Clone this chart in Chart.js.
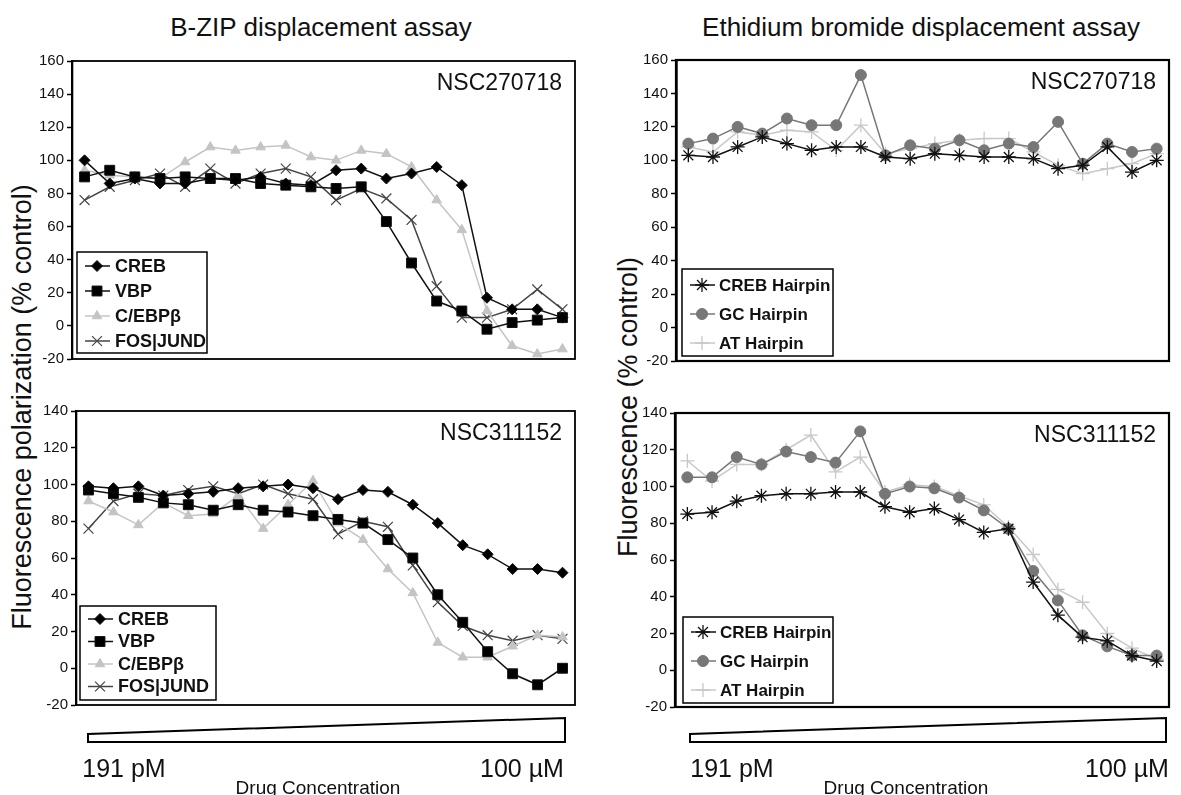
<!DOCTYPE html>
<html>
<head>
<meta charset="utf-8">
<script src="https://cdn.jsdelivr.net/npm/chart.js@4.4.1/dist/chart.umd.min.js"></script>
<style>
  body { margin: 0; width: 1181px; height: 795px; background: #fff; overflow: hidden; position: relative;
         font-family: "Liberation Sans", Arial, sans-serif; color: #111; }
  canvas { position: absolute; }
  .t { position: absolute; white-space: nowrap; line-height: 1; transform: translate(-50%, -50%); }
  .rot { transform: translate(-50%, -50%) rotate(-90deg); }
  svg { position: absolute; left: 0; top: 0; }
</style>
</head>
<body>
<div class="t" style="left:321px; top:27px; font-size:26px;">B-ZIP displacement assay</div>
<div class="t" style="left:921px; top:27px; font-size:26px;">Ethidium bromide displacement assay</div>
<div class="t rot" style="left:22px; top:407px; font-size:27px;">Fluorescence polarization (% control)</div>
<div class="t rot" style="left:628px; top:407px; font-size:27px;">Fluorescence (% control)</div>

<canvas id="tl"></canvas>
<canvas id="bl"></canvas>
<canvas id="tr"></canvas>
<canvas id="br"></canvas>

<svg width="1181" height="795">
  <polygon points="88,742 565,742 565,718 88,734" fill="#fff" stroke="#000" stroke-width="2"/>
  <polygon points="690,742 1166,742 1166,718 690,734" fill="#fff" stroke="#000" stroke-width="2"/>
</svg>
<div class="t" style="left:124px; top:768px; font-size:25px;">191 pM</div>
<div class="t" style="left:522px; top:768px; font-size:25px;">100 &micro;M</div>
<div class="t" style="left:318px; top:787px; font-size:19px;">Drug Concentration</div>
<div class="t" style="left:732px; top:768px; font-size:25px;">191 pM</div>
<div class="t" style="left:1127px; top:768px; font-size:25px;">100 &micro;M</div>
<div class="t" style="left:906px; top:787px; font-size:19px;">Drug Concentration</div>

<script>
// 2-fold dilution series, 191 pM -> 100 uM
const concentrations = ["191 pM", "381 pM", "763 pM", "1.53 nM", "3.05 nM", "6.10 nM", "12.2 nM", "24.4 nM",
  "48.8 nM", "97.7 nM", "195 nM", "391 nM", "781 nM", "1.56 µM", "3.13 µM", "6.25 µM", "12.5 µM", "25 µM", "50 µM", "100 µM"];

// B-ZIP displacement, NSC270718
const tlCreb = [100, 86, 89, 86, 86, 89, 88, 90, 86, 85, 94, 95, 89, 92, 96, 85, 17, 10, 10, 5];
const tlVbp  = [90, 94, 90, 89, 90, 89, 89, 86, 85, 84, 83, 84, 63, 38, 15, 9, -2, 2, 3.5, 5];
const tlCebp = [94, 91, 90, 89, 99, 108, 106, 108, 109, 102, 100, 106, 104, 96, 76, 58, 9, -12, -17, -14];
const tlFos  = [76, 84, 88, 92, 84, 95, 86, 92, 95, 90, 76, 83, 77, 64, 24, 5, 5, 10, 22, 10];

// B-ZIP displacement, NSC311152
const blCreb = [99, 98, 99, 94, 95, 96, 98, 99, 100, 98, 92, 97, 96, 89, 79, 67, 62, 54, 54, 52];
const blVbp  = [97, 95, 93, 90, 89, 86, 89, 86, 85, 83, 81, 79, 70, 60, 40, 25, 9, -3, -9, 0];
const blCebp = [91, 85, 78, 90, 83, 84, 94, 76, 89, 102, 79, 70, 54, 41, 14, 6, 6, 12, 18, 17];
const blFos  = [76, 91, 95, 94, 97, 99, 95, 100, 95, 92, 73, 80, 77, 56, 36, 23, 18, 15, 18, 16];

// Ethidium bromide displacement, NSC270718
const trCreb = [103, 102, 108, 114, 110, 106, 108, 108, 102, 101, 104, 103, 102, 102, 101, 95, 97, 108, 93, 100];
const trGc   = [110, 113, 120, 116, 125, 121, 121, 151, 103, 109, 107, 112, 106, 110, 108, 123, 98, 110, 105, 107];
const trAt   = [108, 105, 117, 115, 118, 117, 106, 121, 104, 107, 110, 112, 113, 113, 105, 97, 92, 95, 98, 104];

// Ethidium bromide displacement, NSC311152
const brCreb = [85, 86, 92, 95, 96, 96, 97, 97, 89, 86, 88, 82, 75, 77, 48, 30, 18, 16, 8, 5];
const brGc   = [105, 105, 116, 112, 119, 116, 113, 130, 96, 100, 99, 94, 87, 77, 54, 38, 19, 13, 8, 8];
const brAt   = [114, 103, 112, 112, 120, 128, 108, 116, 97, 101, 100, 95, 90, 78, 63, 44, 37, 20, 12, 6];

const FONT = "'Liberation Sans', Arial, sans-serif";

const styles = {
  creb:   { color: "#111", fill: "#000", pointStyle: "rectRot", radius: 5.5, pw: 1 },
  vbp:    { color: "#111", fill: "#000", pointStyle: "rect", radius: 7, pw: 1 },
  cebp:   { color: "#c4c4c4", fill: "#c4c4c4", pointStyle: "triangle", radius: 5.5, pw: 1 },
  fos:    { color: "#444", fill: "#444", pointStyle: "crossRot", radius: 7, pw: 1.2 },
  hpCreb: { color: "#111", fill: "#111", pointStyle: "star", radius: 7, pw: 1.3 },
  hpGc:   { color: "#777", fill: "#777", pointStyle: "circle", radius: 5.5, pw: 1 },
  hpAt:   { color: "#c8c8c8", fill: "#c8c8c8", pointStyle: "cross", radius: 7, pw: 1.3 },
};

function ds(label, data, s) {
  return {
    label: label,
    data: data,
    borderColor: s.color,
    borderWidth: 1.5,
    backgroundColor: s.fill,
    pointStyle: s.pointStyle,
    pointRadius: s.radius,
    pointBackgroundColor: s.fill,
    pointBorderColor: s.color,
    pointBorderWidth: s.pw,
    tension: 0,
  };
}

// box, panel name and boxed legend with line + marker samples
const panelDecor = {
  id: "panelDecor",
  afterDatasetsDraw(chart, args, opts) {
    const ctx = chart.ctx;
    const a = chart.chartArea;
    ctx.save();
    ctx.strokeStyle = "#000";
    ctx.lineWidth = opts.boxWidth;
    ctx.strokeRect(a.left, a.top, a.right - a.left, a.bottom - a.top);

    ctx.fillStyle = "#111";
    ctx.font = "23px " + FONT;
    ctx.textAlign = "right";
    ctx.textBaseline = "middle";
    ctx.fillText(opts.name, a.right - 13, a.top + 23);

    const lg = opts.legend;
    const x = a.left + lg.dx;
    const top = a.bottom - lg.dy - lg.h;
    ctx.fillStyle = "#fff";
    ctx.fillRect(x, top, lg.w, lg.h);
    ctx.lineWidth = 1.5;
    ctx.strokeRect(x, top, lg.w, lg.h);
    ctx.textAlign = "left";
    ctx.font = "bold " + lg.size + "px " + FONT;
    chart.data.datasets.forEach((d, i) => {
      const y = top + lg.first + i * lg.step;
      ctx.strokeStyle = d.borderColor;
      ctx.lineWidth = 1.5;
      ctx.beginPath();
      ctx.moveTo(x + 8, y);
      ctx.lineTo(x + 33, y);
      ctx.stroke();
      ctx.fillStyle = d.pointBackgroundColor;
      ctx.strokeStyle = d.pointBorderColor;
      ctx.lineWidth = d.pointBorderWidth;
      Chart.helpers.drawPoint(ctx, { pointStyle: d.pointStyle, radius: d.pointRadius, rotation: 0, borderWidth: d.pointBorderWidth }, x + 20, y);
      ctx.fillStyle = "#111";
      ctx.fillText(d.label, x + lg.tx, y + 1);
    });
    ctx.restore();
  },
};

function panel(id, box, yMax, datasets, name, legend, boxWidth) {
  const c = document.getElementById(id);
  const w = box.right - box.left + 72 + 12;
  const h = box.bottom - box.top + 40;
  c.width = w;
  c.height = h;
  c.style.left = (box.left - 72) + "px";
  c.style.top = (box.top - 20) + "px";
  return new Chart(c, {
    type: "line",
    data: { labels: concentrations, datasets: datasets },
    options: {
      responsive: false,
      animation: false,
      layout: { padding: { top: 20, right: 12, bottom: 20, left: 0 } },
      scales: {
        x: { type: "category", offset: true, display: false },
        y: {
          min: -20,
          max: yMax,
          afterFit(scale) { scale.width = 72; },
          ticks: { stepSize: 20, color: "#111", padding: 3, font: { family: FONT, size: 15 } },
          grid: { drawOnChartArea: false, drawTicks: true, tickLength: 5, tickColor: "#000", tickWidth: 1.5 },
          border: { display: true, color: "#000", width: boxWidth + 0.5 },
        },
      },
      plugins: {
        legend: { display: false },
        tooltip: { enabled: false },
        panelDecor: { name: name, legend: legend, boxWidth: boxWidth },
      },
    },
    plugins: [panelDecor],
  });
}

panel("tl", { left: 72, top: 61, right: 575, bottom: 359 }, 160, [
  ds("CREB", tlCreb, styles.creb),
  ds("VBP", tlVbp, styles.vbp),
  ds("C/EBPβ", tlCebp, styles.cebp),
  ds("FOS|JUND", tlFos, styles.fos),
], "NSC270718", { dx: 5, dy: 6, w: 130, h: 101, first: 14, step: 25, tx: 38, size: 18 }, 1.8);

panel("bl", { left: 76, top: 411, right: 575, bottom: 705 }, 140, [
  ds("CREB", blCreb, styles.creb),
  ds("VBP", blVbp, styles.vbp),
  ds("C/EBPβ", blCebp, styles.cebp),
  ds("FOS|JUND", blFos, styles.fos),
], "NSC311152", { dx: 4, dy: 5, w: 136, h: 94, first: 13, step: 22.5, tx: 38, size: 18 }, 1.8);

panel("tr", { left: 676, top: 60, right: 1169, bottom: 361 }, 160, [
  ds("CREB Hairpin", trCreb, styles.hpCreb),
  ds("GC Hairpin", trGc, styles.hpGc),
  ds("AT Hairpin", trAt, styles.hpAt),
], "NSC270718", { dx: 6, dy: 5, w: 151, h: 87, first: 16, step: 29, tx: 37, size: 17 }, 2.2);

panel("br", { left: 675, top: 413, right: 1169, bottom: 707 }, 140, [
  ds("CREB Hairpin", brCreb, styles.hpCreb),
  ds("GC Hairpin", brGc, styles.hpGc),
  ds("AT Hairpin", brAt, styles.hpAt),
], "NSC311152", { dx: 8, dy: 4, w: 150, h: 86, first: 15, step: 29, tx: 37, size: 17 }, 2.2);
</script>
</body>
</html>
